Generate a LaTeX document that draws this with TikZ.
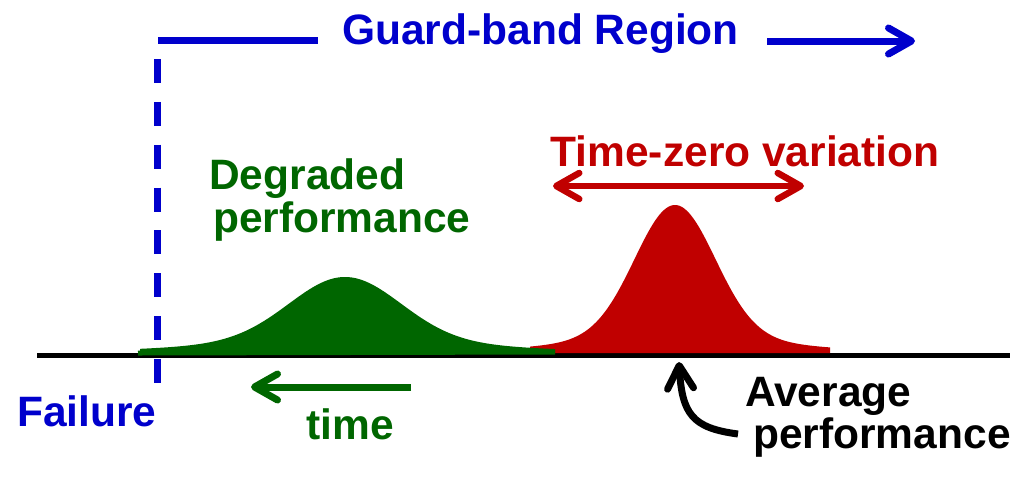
\documentclass[tikz,border=0pt]{standalone}
\usepackage{fontspec}
\setmainfont{Liberation Sans}
\usetikzlibrary{arrows.meta}
\definecolor{gbblue}{RGB}{0,0,204}
\definecolor{dgreen}{RGB}{0,102,0}
\definecolor{dred}{RGB}{192,0,0}
\tikzset{
  lbl/.style={font=\fontsize{42.5}{43}\selectfont\bfseries, inner sep=0pt},
  barbtip/.tip={Straight Barb[length=23pt,width=26pt,line cap=round,line join=round]},
  conn/.style={line width=6.5pt},
}
\begin{document}
\begin{tikzpicture}[x=1pt,y=-1pt]
\useasboundingbox (0,0) rectangle (1024,483);
% coordinates
\coordinate (axL) at (37,355);
\coordinate (axR) at (1010,355);
\coordinate (gL) at (138,353);
\coordinate (gR) at (555,352);
\coordinate (dT) at (157,59);
\coordinate (dB) at (157,383);
\coordinate (tL) at (158,40.5);
\coordinate (tR) at (318,40.5);
\coordinate (bS) at (767,41);
\coordinate (bE) at (915,41);
\coordinate (rL) at (553,186);
\coordinate (rR) at (804,186);
\coordinate (tmS) at (411,387);
\coordinate (tmE) at (251,387);
\coordinate (avS) at (738,434);
\coordinate (avE) at (679,362);
% axis
\draw[line width=5pt] (axL) -- (axR);
% red distribution
\fill[dred] plot[domain=530:830,samples=150]
  (\x,{352-132*exp(-0.5*((\x-675)/40)^2)-15*exp(-0.5*((\x-675)/100)^2)})
  -- (830,353) -- (530,353) -- cycle;
% green distribution
\fill[dgreen] plot[domain=140:555,samples=150]
  (\x,{352-63*exp(-0.5*((\x-345)/55)^2)-12*exp(-0.5*((\x-345)/125)^2)})
  -- (555,353) -- (140,353) -- cycle;
\draw[dgreen,line width=5pt] (gL) -- (gR);
% guard band
\draw[gbblue,line width=7pt,dash pattern=on 24pt off 18.86pt] (dT) -- (dB);
\draw[gbblue,line width=7pt] (tL) -- (tR);
\draw[gbblue,line width=7pt,-barbtip] (bS) -- (bE);
% arrows
\draw[dred,conn,barbtip-barbtip] (rL) -- (rR);
\draw[dgreen,line width=7pt,-barbtip] (tmS) -- (tmE);
\draw[black,line width=7pt,-barbtip] (avS) .. controls (692,428) and (682,414) .. (avE);
% labels
\node[lbl,text=gbblue,anchor=base] (gb) at (540.5,44) {Guard-band Region};
\node[lbl,text=dred,anchor=base] (tz) at (745,166) {Time-zero variation};
\node[lbl,text=dgreen,anchor=base west] (deg1) at (209,189) {Degraded};
\node[lbl,text=dgreen,anchor=base west] (deg2) at (213,232) {performance};
\node[lbl,text=dgreen,anchor=base] (time) at (350,439) {time};
\node[lbl,text=gbblue,anchor=base west] (fail) at (17,426) {Failure};
\node[lbl,text=black,anchor=base west] (avg1) at (745,406) {Average};
\node[lbl,text=black,anchor=base west] (avg2) at (753,448) {performance};
\end{tikzpicture}
\end{document}
